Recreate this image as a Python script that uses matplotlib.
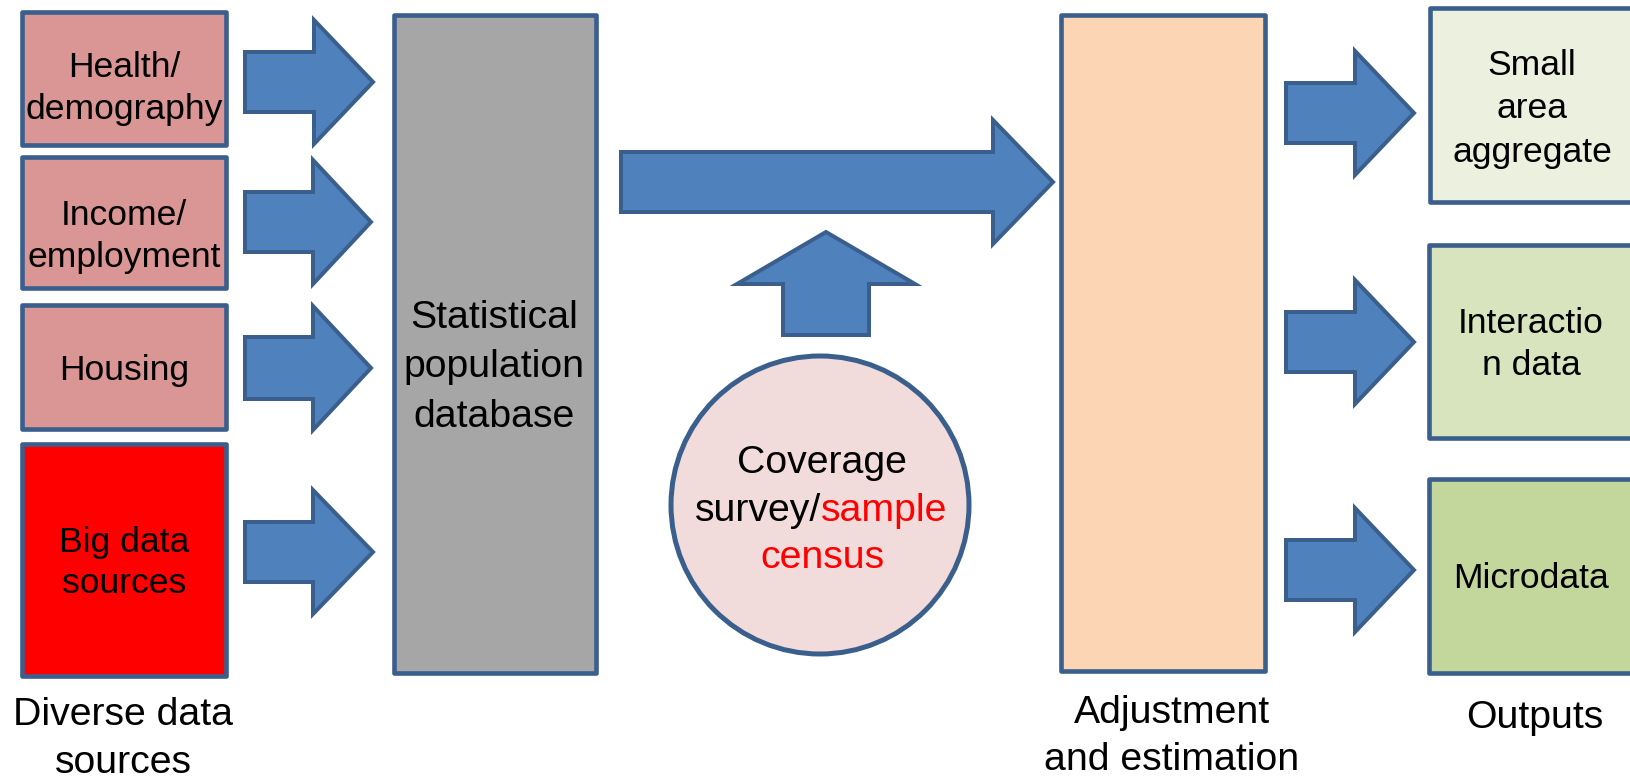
import matplotlib
matplotlib.use("Agg")
import matplotlib.pyplot as plt
from matplotlib.patches import Rectangle, Polygon, Circle

plt.rcParams['font.family'] = ['Liberation Sans', 'DejaVu Sans']

W, H, DPI = 1631, 778, 100

EDGE = "#3A5F8C"
ARROW_FILL = "#4F81BD"

# ---- boxes: x0, y0, x1, y1, fill in pixel coords (outer border)
box_names = ["health", "income", "housing", "bigdata", "spd", "adjust", "small", "inter", "micro"]
box_x0 = [20, 20, 20, 20, 392, 1059, 1428, 1427, 1427]
box_y0 = [10, 155, 303, 442, 13, 13, 6, 243, 477]
box_x1 = [228, 228, 228, 228, 598, 1267, 1650, 1650, 1650]
box_y1 = [147, 290, 431, 678, 675, 673, 204, 440, 675]
box_fill = ["#D99694", "#D99694", "#D99694", "#FF0000", "#A6A6A6",
            "#FCD5B5", "#EBF1DE", "#D7E4BD", "#C3D69B"]

# ---- right-pointing arrows: x start, tip x, center y, shaft half-h, head half-h, head length
arr_x0 = [243, 243, 243, 243, 619, 1284, 1284, 1284]
arr_tip = [377, 375, 375, 377, 1057, 1418, 1418, 1418]
arr_cy = [82, 222, 368, 552, 182, 113, 342, 570]
arr_sh = [32, 32, 33, 32, 32, 32, 32, 32]
arr_hh = [66, 66, 66, 66, 66, 66, 66, 66]
arr_hl = [63, 62, 62, 64, 64, 63, 63, 63]

# ---- up arrow: center x, bottom y, tip y, shaft half-w, head half-w, head length
up_cx, up_bottom, up_tip, up_sw, up_hw, up_hl = 826, 337, 228, 45, 93, 56

# ---- circle
circ_cx, circ_cy, circ_r = 820, 505, 150

# ---- text lines: text, x center, baseline y, size px, color
txt_str = ["Health/", "demography", "Income/", "employment", "Housing",
           "Big data", "sources", "Diverse data", "sources",
           "Statistical", "population", "database",
           "Coverage", "census",
           "Adjustment", "and estimation",
           "Small", "area", "aggregate", "Interactio", "n data", "Microdata", "Outputs"]
txt_x = [124, 124, 124, 124, 124, 124, 124, 123, 123,
         494, 494, 494,
         822, 822,
         1172, 1172,
         1532, 1532, 1532, 1531, 1531, 1531, 1535]
txt_y = [77, 119, 225, 267, 380, 552, 593, 725, 773,
         328, 377, 427,
         473, 568,
         723, 770,
         75, 118, 162, 333, 375, 588, 728]
txt_px = [35.5, 35.5, 35.5, 35.5, 35.5, 35.5, 35.5, 39.3, 39.3,
          39.3, 39.3, 39.3,
          39.3, 39.3,
          39.3, 39.3,
          35.5, 35.5, 35.5, 35.5, 35.5, 35.5, 39.3]
txt_col = ["black"] * 13 + ["red"] + ["black"] * 9

# mixed-colour line inside circle
mixed_parts = ["survey/", "sample"]
mixed_cols = ["black", "red"]
mixed_cx, mixed_y, mixed_px = 821, 521, 39.3

fig = plt.figure(figsize=(W / DPI, H / DPI), dpi=DPI)
ax = fig.add_axes([0, 0, 1, 1])
ax.set_xlim(0, W)
ax.set_ylim(H, 0)
ax.axis("off")

def pt(px):
    return px * 72.0 / DPI

# boxes
for x0, y0, x1, y1, fc in zip(box_x0, box_y0, box_x1, box_y1, box_fill):
    lw = 4.6
    r = Rectangle((x0 + lw / 2, y0 + lw / 2), (x1 - x0) - lw, (y1 - y0) - lw,
                  facecolor=fc, edgecolor=EDGE, linewidth=pt(lw), joinstyle="round")
    ax.add_patch(r)

# right arrows
for x0, tip, cy, sh, hh, hl in zip(arr_x0, arr_tip, arr_cy, arr_sh, arr_hh, arr_hl):
    i = 2.0
    hx = tip - hl
    pts = [(x0 + i, cy - sh + i), (hx, cy - sh + i), (hx, cy - hh + i * 2),
           (tip - i * 2, cy), (hx, cy + hh - i * 2), (hx, cy + sh - i),
           (x0 + i, cy + sh - i)]
    ax.add_patch(Polygon(pts, closed=True, facecolor=ARROW_FILL, edgecolor=EDGE,
                         linewidth=pt(4.0), joinstyle="miter"))

# up arrow
i = 2.0
hy = up_tip + up_hl
pts = [(up_cx - up_sw + i, up_bottom - i), (up_cx - up_sw + i, hy),
       (up_cx - up_hw + i * 2, hy), (up_cx, up_tip + i * 2),
       (up_cx + up_hw - i * 2, hy), (up_cx + up_sw - i, hy),
       (up_cx + up_sw - i, up_bottom - i)]
ax.add_patch(Polygon(pts, closed=True, facecolor=ARROW_FILL, edgecolor=EDGE,
                     linewidth=pt(4.0), joinstyle="miter"))

# circle
ax.add_patch(Circle((circ_cx, circ_cy), circ_r - 1, facecolor="#F2DCDB",
                    edgecolor=EDGE, linewidth=pt(5.0)))

# text
for s, x, y, px, c in zip(txt_str, txt_x, txt_y, txt_px, txt_col):
    ax.text(x, y, s, ha="center", va="baseline", fontsize=pt(px), color=c)

# mixed colour line
fig.canvas.draw()
renderer = fig.canvas.get_renderer()
objs = []
widths = []
for s, c in zip(mixed_parts, mixed_cols):
    t = ax.text(0, mixed_y, s, ha="left", va="baseline", fontsize=pt(mixed_px), color=c)
    bb = t.get_window_extent(renderer=renderer)
    objs.append(t)
    widths.append(bb.width)
total = sum(widths)
x = mixed_cx - total / 2
for t, w in zip(objs, widths):
    t.set_x(x)
    x += w

fig.savefig("out.png", dpi=DPI)
